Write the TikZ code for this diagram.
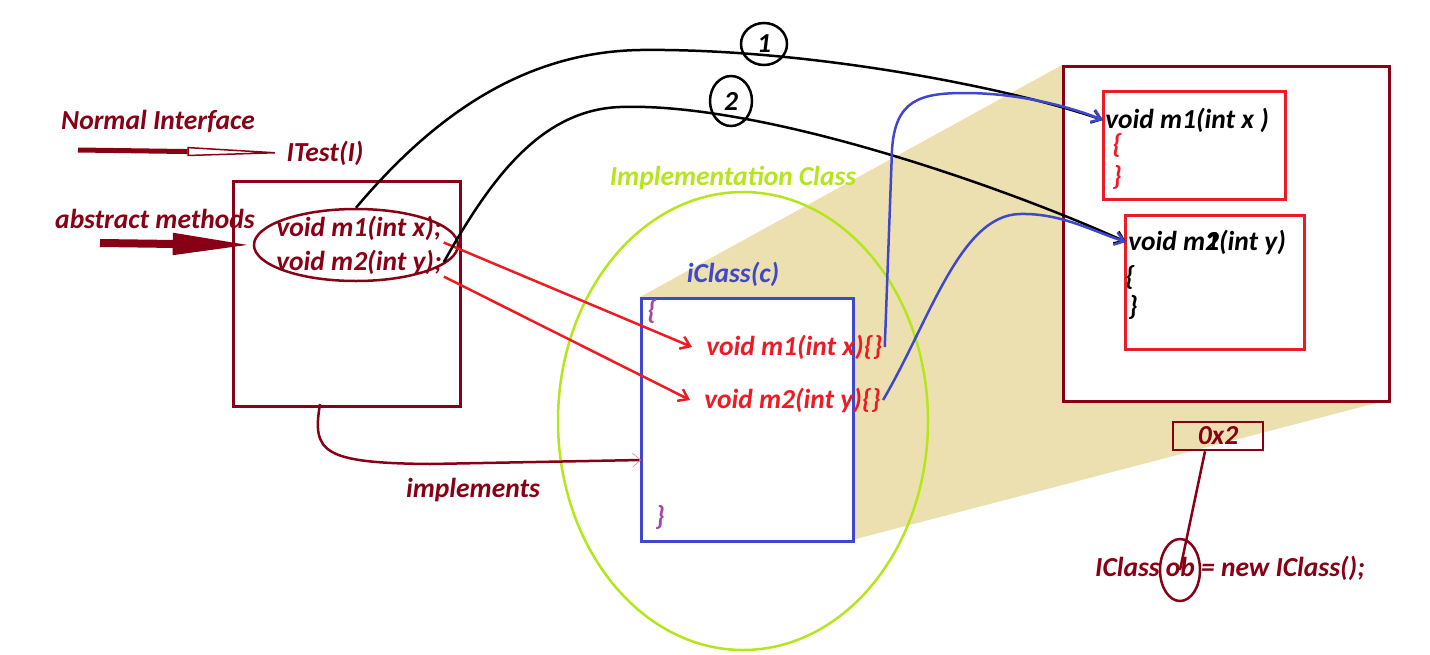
\documentclass[tikz,border=0pt]{standalone}
\usepackage{fontspec}
\setmainfont{Carlito}
\usetikzlibrary{arrows.meta,shapes.geometric}
\definecolor{maroon}{RGB}{136,0,21}
\definecolor{shadetan}{RGB}{237,224,176}
\definecolor{limegreen}{RGB}{181,230,29}
\definecolor{iblue}{RGB}{63,72,204}
\definecolor{ired}{RGB}{237,28,36}
\definecolor{plum}{RGB}{163,73,164}
\tikzset{
  lbl/.style={font=\bfseries\itshape\fontsize{27.5}{32}\selectfont, inner sep=1pt},
  box/.style={draw=#1, inner sep=0pt, anchor=north west, fill=white},
  barb/.style={-{Straight Barb[length=9pt,width=13pt]}}
}
\begin{document}
\begin{tikzpicture}[x=1pt,y=-1pt,line width=2.5pt]
  \useasboundingbox (0,0) rectangle (1430,654);
  \fill[shadetan] (640,297) -- (1062,65) -- (1388,400) -- (852,540) -- cycle;
  \draw[limegreen] (743,421) ellipse [x radius=185, y radius=229];

  \node[box=maroon, minimum width=227pt, minimum height=225pt] (ibox) at (232,180) {};
  \node[box=iblue, minimum width=212pt, minimum height=243pt] (iclass) at (640,297) {};
  \node[box=maroon, minimum width=326pt, minimum height=335pt] (heap) at (1062,65) {};
  \node[box=ired, minimum width=182pt, minimum height=108pt] (obj1) at (1102,90) {};
  \node[box=ired, minimum width=179pt, minimum height=134pt] (obj2) at (1124,214) {};
  \node[draw=maroon, ellipse, minimum width=204pt, minimum height=72pt] (abs) at (356,245) {};

  \draw
    (158,121) node[lbl, maroon] (normal){Normal Interface}
    (325,153) node[lbl, maroon] (itest){ITest(I)}
    (155,219) node[lbl, maroon] (abstract){abstract methods}
    (359,228) node[lbl, maroon] (m1dec){void m1(int x);}
    (359,262) node[lbl, maroon] (m2dec){void m2(int y);}
    (473,490) node[lbl, maroon] (impl){implements}
    (733,178) node[lbl, limegreen] (implclass){Implementation Class}
    (733,274) node[lbl, iblue] (iname){iClass(c)}
    (652,311) node[lbl, plum] (open){\{}
    (660,517) node[lbl, plum] (close){\}}
    (704,347) node[lbl, ired, anchor=west] (m1impl){void m1(int x)\{\}}
    (702,400) node[lbl, ired, anchor=west] (m2impl){void m2(int y)\{\}}
    (1103,120) node[lbl, anchor=west] (m1body){void m1(int x )}
    (1117,145) node[lbl, ired] (m1open){\{}
    (1117,177) node[lbl, ired] (m1close){\}}
    (1126,242) node[lbl, anchor=west] (m2body){void m\rlap{1}2(int y)}
    (1130,277) node[lbl] (m2open){\{}
    (1133,307) node[lbl] (m2close){\}}
    (1218,436) node[lbl, maroon, draw=maroon, minimum width=90pt, minimum height=28pt, inner sep=0pt] (addr){0x2}
    (1230,568) node[lbl, maroon] (decl){IClass ob = new IClass();};
  \node[draw, ellipse, minimum width=46pt, minimum height=42pt, lbl, inner sep=0pt] (one) at (764,44) {1};
  \node[draw, ellipse, minimum width=42pt, minimum height=50pt, lbl, inner sep=0pt] (two) at (731,101) {2};
  \node[draw=maroon, ellipse, minimum width=40pt, minimum height=62pt] (ob) at (1180,570) {};

  \coordinate (nistart) at (78,150);
  \coordinate (abstart) at (100,243);
  \coordinate (impstart) at (320,404);
  \coordinate (impend) at (641,460);

  \begin{scope}[maroon]
    \draw[line width=5pt, -{Triangle[open, length=105pt, width=9pt, line width=1.5pt, fill=white]}] (nistart) -- ([xshift=8pt]itest.west);
    \draw[line width=8pt, -{Triangle[length=80pt, width=20pt]}] (abstart) -- (abs.west);
    \draw[-{Straight Barb[length=8pt, width=14pt, line width=0.7pt, color=ired!50]}]
      (impstart) .. controls (312,452) and (322,463) .. (430,464) -- (impend);
    \draw ([xshift=-13pt]addr.south) -- (ob.center);
  \end{scope}
  \begin{scope}[ired, barb]
    \draw (m1dec.south east) -- ([xshift=-12pt]m1impl.west);
    \draw (m2dec.south east) -- ([xshift=-12pt]m2impl.west);
  \end{scope}
  \begin{scope}[barb]
    \draw (abs.north) .. controls (430,120) and (520,52) .. (640,50)
      .. controls (800,48) and (1000,85) .. (m1body.west);
    \draw (m2dec.east) .. controls (490,180) and (540,110) .. (620,107)
      .. controls (760,102) and (1000,185) .. (m2body.west);
  \end{scope}
  \begin{scope}[iblue, barb]
    \draw (m1impl.east) -- (892,150) .. controls (895,100) and (920,93) .. (965,93)
      .. controls (1010,93) and (1060,103) .. (m1body.west);
    \draw (m2impl.east) .. controls (930,320) and (960,215) .. (1020,214)
      .. controls (1060,213) and (1090,230) .. (m2body.west);
  \end{scope}
\end{tikzpicture}
\end{document}
